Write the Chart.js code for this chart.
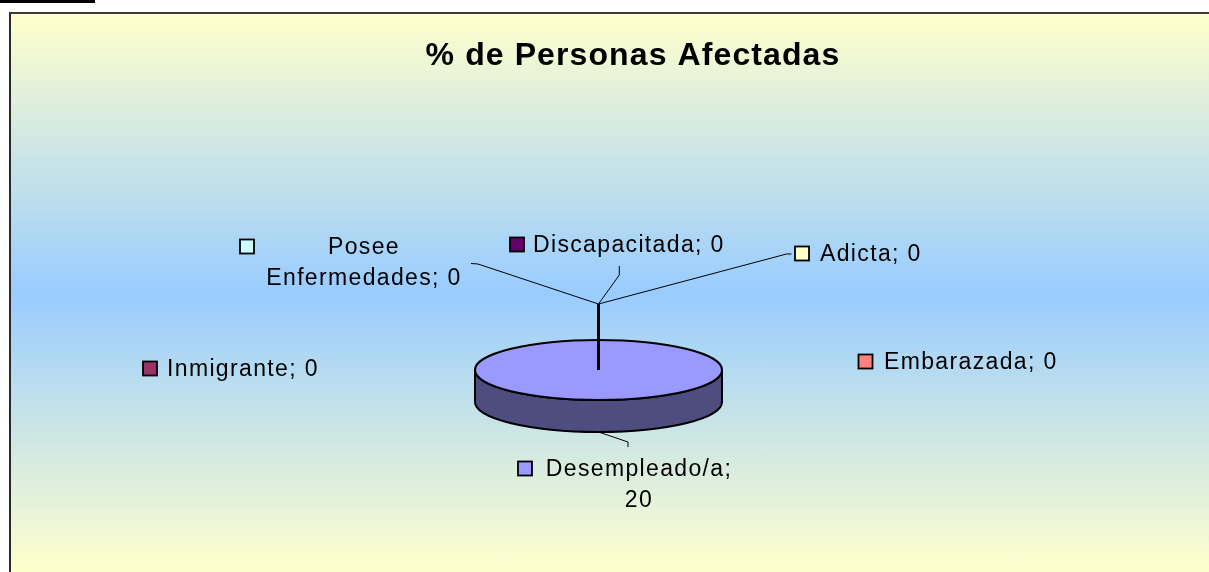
<!DOCTYPE html>
<html>
<head>
<meta charset="utf-8">
<script src="https://cdn.jsdelivr.net/npm/chart.js@4.4.1/dist/chart.umd.min.js"></script>
<style>
  html, body { margin: 0; padding: 0; background: #fff; width: 1209px; height: 572px; overflow: hidden; }
  #bar { position: absolute; left: 0; top: 0; width: 95px; height: 3px; background: #000; }
  #box {
    position: absolute; left: 9px; top: 12px; width: 1200px; height: 560px;
    box-sizing: border-box;
    border-top: 2px solid #3c3c3c; border-left: 2px solid #2a2a2a;
    background: linear-gradient(#FFFFCC, #99CCFF 50%, #FFFFCC);
  }
  canvas { display: block; }
</style>
</head>
<body>
<div id="bar"></div>
<div id="box"><canvas id="c" width="1198" height="558"></canvas></div>
<script>
// Chart data
const titleText = '% de Personas Afectadas';
const categories = ['Desempleado/a', 'Inmigrante', 'Adicta', 'Posee Enfermedades', 'Discapacitada', 'Embarazada'];
const values = [20, 0, 0, 0, 0, 0];
const sliceColors = ['#9999FF', '#993366', '#FFFFCC', '#CCFFFF', '#660066', '#FF8080'];

// Label placement (canvas px): text anchor, key box, wrapped lines and leader path
const labelLayout = [
  { x: 628, y: 462, align: 'center', key: 506, lines: ['Desempleado/a;', '20'], leader: [[617, 428], [617, 433]], fromEdge: true },
  { x: 156, y: 362, align: 'left', key: 131 },
  { x: 809, y: 247, align: 'left', key: 783, leader: [[587.5, 290], [775.5, 240], [780.5, 240]] },
  { x: 353, y: 240, align: 'center', key: 228, lines: ['Posee', 'Enfermedades; 0'], leader: [[587.5, 290], [467, 250], [460, 249.5]] },
  { x: 522, y: 238, align: 'left', key: 498, leader: [[587.5, 290], [608.3, 261], [608.3, 252]] },
  { x: 873, y: 355, align: 'left', key: 846.5 }
];

const TILT = 30 / 123.5;   // vertical squash of the pie
const DEPTH = 32;          // thickness of the 3D wall
const LABEL_FONT = '23px "Liberation Sans", Arial, sans-serif';

function shade(hex, f) {
  const n = parseInt(hex.slice(1), 16);
  const r = Math.round(((n >> 16) & 255) * f), g = Math.round(((n >> 8) & 255) * f), b = Math.round((n & 255) * f);
  return `rgb(${r},${g},${b})`;
}

// Draws the pie as a tilted disc with a visible front wall
const tiltPlugin = {
  id: 'tilt3d',
  beforeDatasetsDraw(chart) {
    const ctx = chart.ctx;
    const meta = chart.getDatasetMeta(0);
    const first = meta.data[0];
    const cx = first.x, cy = first.y, r = first.outerRadius, ry = r * TILT;
    ctx.save();
    meta.data.forEach((arc, i) => {
      if (arc.endAngle - arc.startAngle <= 0) return;
      for (let k = -1; k <= 1; k++) {
        const lo = Math.max(arc.startAngle, 2 * Math.PI * k);
        const hi = Math.min(arc.endAngle, 2 * Math.PI * k + Math.PI);
        if (hi <= lo) continue;
        ctx.beginPath();
        ctx.ellipse(cx, cy, r, ry, 0, lo, hi, false);
        ctx.ellipse(cx, cy + DEPTH, r, ry, 0, hi, lo, true);
        ctx.closePath();
        ctx.fillStyle = shade(sliceColors[i], 0.5);
        ctx.fill();
        ctx.lineWidth = 2;
        ctx.strokeStyle = '#000';
        ctx.lineJoin = 'round';
        ctx.stroke();
      }
    });
    ctx.save();
    ctx.translate(cx, cy);
    ctx.scale(1, TILT);
    ctx.translate(-cx, -cy);
  },
  afterDatasetsDraw(chart) {
    const ctx = chart.ctx;
    ctx.restore();
    const meta = chart.getDatasetMeta(0);
    meta.data.forEach((arc) => {
      const span = arc.endAngle - arc.startAngle;
      if (span <= 0) return;
      const ry = arc.outerRadius * TILT;
      ctx.beginPath();
      if (span >= 2 * Math.PI - 1e-6) {
        ctx.ellipse(arc.x, arc.y, arc.outerRadius, ry, 0, 0, 2 * Math.PI);
      } else {
        ctx.moveTo(arc.x, arc.y);
        ctx.ellipse(arc.x, arc.y, arc.outerRadius, ry, 0, arc.startAngle, arc.endAngle);
        ctx.closePath();
      }
      ctx.lineWidth = 2;
      ctx.strokeStyle = '#000';
      ctx.stroke();
    });
    ctx.restore();
  }
};

// Title, data labels with colour keys, and leader lines
const labelPlugin = {
  id: 'pieLabels',
  afterDraw(chart) {
    const ctx = chart.ctx;
    const meta = chart.getDatasetMeta(0);
    const first = meta.data[0];
    const cx = first.x, cy = first.y, r = first.outerRadius;

    ctx.save();
    ctx.fillStyle = '#000';
    ctx.font = 'bold 32px "Liberation Sans", Arial, sans-serif';
    ctx.letterSpacing = '1.1px';
    ctx.textAlign = 'center';
    ctx.textBaseline = 'alphabetic';
    ctx.fillText(titleText, 622, 51);
    ctx.restore();

    // leader lines
    ctx.save();
    ctx.strokeStyle = '#000';
    ctx.lineCap = 'butt';
    let elbowDrawn = false;
    meta.data.forEach((arc, i) => {
      const L = labelLayout[i];
      if (!L.leader) return;
      ctx.beginPath();
      ctx.lineWidth = 1;
      if (L.fromEdge) {
        const mid = (arc.startAngle + arc.endAngle) / 2;
        ctx.moveTo(cx + r * Math.cos(mid), cy + r * TILT * Math.sin(mid) + DEPTH);
        L.leader.forEach(p => ctx.lineTo(p[0], p[1]));
        ctx.stroke();
      } else {
        if (!elbowDrawn) {
          ctx.save();
          ctx.lineWidth = 3;
          ctx.beginPath();
          ctx.moveTo(arc.x, arc.y);
          ctx.lineTo(L.leader[0][0], L.leader[0][1]);
          ctx.stroke();
          ctx.restore();
          elbowDrawn = true;
        }
        ctx.beginPath();
        ctx.moveTo(L.leader[0][0], L.leader[0][1]);
        L.leader.slice(1).forEach(p => ctx.lineTo(p[0], p[1]));
        ctx.stroke();
      }
    });
    ctx.restore();

    // labels
    ctx.save();
    ctx.font = LABEL_FONT;
    ctx.letterSpacing = '1.35px';
    ctx.textBaseline = 'alphabetic';
    categories.forEach((name, i) => {
      const L = labelLayout[i];
      const lines = L.lines || [name + '; ' + values[i]];
      // colour key
      ctx.fillStyle = sliceColors[i];
      ctx.fillRect(L.key + 1, L.y - 14.5, 14, 14);
      ctx.lineWidth = 1.8;
      ctx.strokeStyle = '#000';
      ctx.strokeRect(L.key + 1, L.y - 14.5, 14, 14);
      ctx.fillStyle = '#000';
      ctx.textAlign = L.align;
      lines.forEach((t, j) => ctx.fillText(t, L.x, L.y + j * 31.2));
    });
    ctx.restore();
  }
};

new Chart(document.getElementById('c'), {
  type: 'pie',
  data: {
    labels: categories,
    datasets: [{ data: values, backgroundColor: sliceColors, borderWidth: 0, clip: false }]
  },
  options: {
    responsive: false,
    animation: false,
    events: [],
    radius: 123.5,
    layout: { padding: { left: 0, right: 23, top: 154, bottom: 0 } },
    plugins: { legend: { display: false }, tooltip: { enabled: false }, title: { display: false } }
  },
  plugins: [tiltPlugin, labelPlugin]
});
</script>
</body>
</html>
